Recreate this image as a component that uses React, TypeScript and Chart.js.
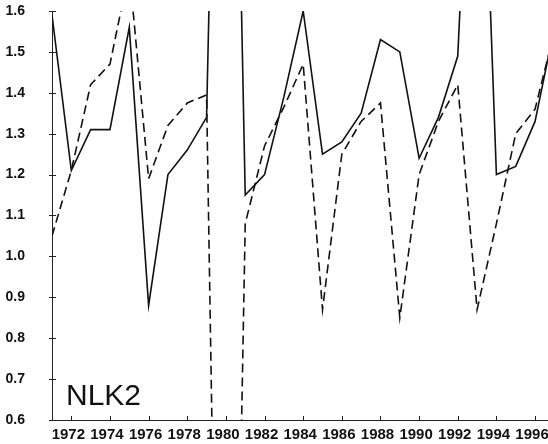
import React, { useEffect, useRef } from "react";
import { Chart, registerables } from "chart.js";

Chart.register(...registerables);

const years = [
  1971, 1972, 1973, 1974, 1975, 1976, 1977, 1978, 1979, 1980, 1981, 1982, 1983, 1984,
  1985, 1986, 1987, 1988, 1989, 1990, 1991, 1992, 1993, 1994, 1995, 1996, 1997,
];
const solidSeries = [
  1.59, 1.21, 1.31, 1.31, 1.56, 0.88, 1.2, 1.26, 1.34, 3.5, 1.15, 1.2, 1.39, 1.6,
  1.25, 1.28, 1.35, 1.53, 1.5, 1.24, 1.34, 1.49, 2.5, 1.2, 1.22, 1.33, 1.56,
];
const dashedSeries = [
  1.05, 1.21, 1.42, 1.47, 1.7, 1.19, 1.32, 1.375, 1.395, -1.5, 1.08, 1.27, 1.365, 1.47,
  0.87, 1.25, 1.33, 1.375, 0.85, 1.2, 1.33, 1.42, 0.87, 1.08, 1.3, 1.36, 1.55,
];
const xTickYears = [1972, 1974, 1976, 1978, 1980, 1982, 1984, 1986, 1988, 1990, 1992, 1994, 1996];
const yTickValues = [0.6, 0.7, 0.8, 0.9, 1.0, 1.1, 1.2, 1.3, 1.4, 1.5, 1.6];
const panelLabel = "NLK2";

const innerTicks = {
  id: "innerTicks",
  afterDraw(chart: any) {
    const ctx = chart.ctx;
    const xs = chart.scales.x;
    const ys = chart.scales.y;
    const { left, bottom } = chart.chartArea;
    ctx.save();
    ctx.strokeStyle = "#222";
    ctx.lineWidth = 1;
    ctx.beginPath();
    yTickValues.forEach((v) => {
      const py = Math.round(ys.getPixelForValue(v)) + 0.5;
      ctx.moveTo(left - 3, py);
      ctx.lineTo(left + 4, py);
    });
    xTickYears.forEach((v) => {
      const px = Math.round(xs.getPixelForValue(v)) + 0.5;
      ctx.moveTo(px, bottom);
      ctx.lineTo(px, bottom - 4);
    });
    ctx.stroke();
    ctx.restore();
  },
};

export default function App() {
  const ref = useRef<HTMLCanvasElement | null>(null);
  useEffect(() => {
    if (!ref.current) return;
    const chart = new Chart(ref.current, {
      type: "line",
      data: {
        datasets: [
          {
            data: years.map((y, i) => ({ x: y, y: solidSeries[i] })),
            borderColor: "#111",
            borderWidth: 1.6,
            pointRadius: 0,
            tension: 0,
            fill: false,
          },
          {
            data: years.map((y, i) => ({ x: y, y: dashedSeries[i] })),
            borderColor: "#111",
            borderWidth: 1.6,
            borderDash: [9, 5],
            pointRadius: 0,
            tension: 0,
            fill: false,
          },
        ],
      },
      options: {
        animation: false,
        responsive: false,
        maintainAspectRatio: false,
        layout: { padding: { top: 11, left: 0, right: 0, bottom: 0 } },
        plugins: { legend: { display: false }, tooltip: { enabled: false } },
        scales: {
          x: {
            type: "linear",
            min: 1971,
            max: 1996.67,
            grid: { display: false },
            border: { display: true, color: "#222", width: 1 },
            afterBuildTicks: (s: any) => {
              s.ticks = xTickYears.map((v) => ({ value: v }));
            },
            afterFit: (s: any) => {
              s.height = 24;
              s.paddingLeft = 0;
              s.paddingRight = 0;
            },
            ticks: {
              autoSkip: false,
              maxRotation: 0,
              padding: -2,
              labelOffset: -3,
              color: "#111",
              font: { family: "Liberation Sans", size: 15, weight: "bold" },
              callback: (v: any) => String(v),
            },
          },
          y: {
            type: "linear",
            min: 0.6,
            max: 1.6,
            grid: { display: false },
            border: { display: true, color: "#222", width: 1 },
            afterBuildTicks: (s: any) => {
              s.ticks = yTickValues.map((v) => ({ value: v }));
            },
            afterFit: (s: any) => {
              s.width = 52;
              s.paddingTop = 0;
              s.paddingBottom = 0;
            },
            ticks: {
              autoSkip: false,
              padding: 19,
              color: "#111",
              font: { family: "Liberation Sans", size: 14, weight: "bold" },
              callback: (v: any) => Number(v).toFixed(1),
            },
          },
        },
      },
      plugins: [innerTicks],
    });
    return () => chart.destroy();
  }, []);
  return (
    <div style={{ position: "absolute", left: 0, top: 0, width: 548, height: 444, background: "#fff", overflow: "hidden" }}>
      <canvas ref={ref} width={548} height={444} style={{ width: 548, height: 444, display: "block" }} />
      <div
        style={{
          position: "absolute",
          left: 66,
          top: 378,
          fontFamily: "Liberation Sans",
          fontSize: 30,
          lineHeight: "34px",
          color: "#111",
        }}
      >
        {panelLabel}
      </div>
    </div>
  );
}
